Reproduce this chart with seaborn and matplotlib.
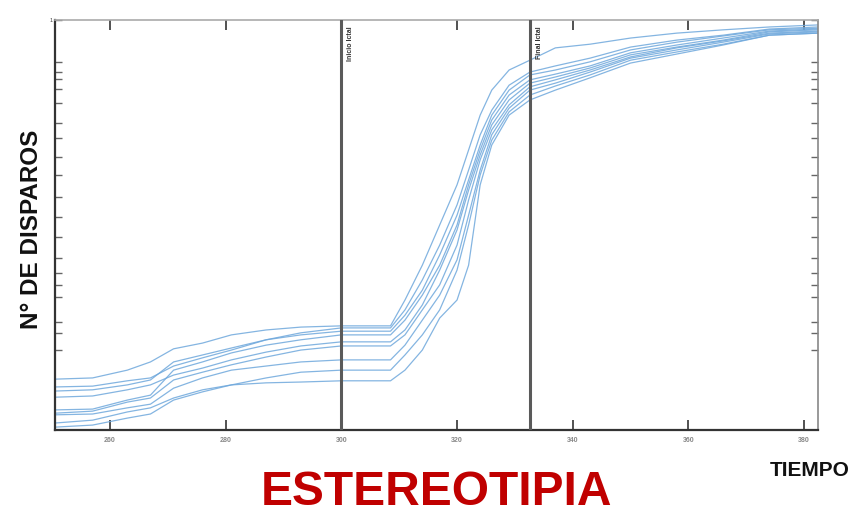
import numpy as np
import pandas as pd
import matplotlib
matplotlib.use("Agg")
import matplotlib.pyplot as plt
import seaborn as sns

# ---------------- data ----------------
times = [250.5, 257, 263, 267, 271, 276, 281, 287, 293, 300,
         308.5, 311, 314, 317, 320, 322, 324, 326, 329, 332.6,
         337, 343, 350, 358, 366, 374, 382.4]

trial_A = [12.4, 12.7, 14.6, 16.6, 19.8, 21.2, 23.2, 24.4, 25.1, 25.4,
           25.4, 31.7, 40.2, 50.0, 59.8, 68.3, 76.8, 82.9, 87.8, 90.2,
           93.2, 94.1, 95.6, 96.8, 97.6, 98.3, 98.8]
trial_B = [10.5, 10.7, 12.0, 12.7, 15.6, 17.6, 19.5, 22.0, 23.7, 24.9,
           24.9, 29.3, 36.6, 45.1, 54.9, 63.4, 72.0, 78.0, 84.1, 87.3,
           88.8, 90.7, 93.4, 95.1, 96.3, 97.8, 98.3]
trial_C = [9.5, 9.8, 11.0, 12.2, 16.6, 18.3, 20.0, 22.0, 23.2, 24.1,
           24.1, 28.0, 34.1, 42.7, 52.4, 61.0, 69.5, 76.8, 82.9, 86.6,
           87.8, 89.8, 92.7, 94.6, 96.1, 97.6, 98.0]
trial_D = [4.9, 5.1, 7.3, 8.5, 14.6, 16.6, 18.8, 20.7, 22.0, 23.2,
           23.2, 26.8, 32.9, 40.2, 50.0, 59.8, 68.3, 75.6, 81.7, 85.4,
           86.8, 88.8, 92.0, 93.9, 95.6, 97.3, 97.8]
trial_E = [8.0, 8.3, 9.8, 11.0, 13.4, 15.1, 17.1, 19.0, 20.5, 21.5,
           21.5, 24.4, 30.5, 39.0, 48.8, 58.5, 67.1, 74.4, 80.5, 84.6,
           86.1, 88.3, 91.5, 93.4, 95.1, 97.1, 97.6]
trial_F = [4.1, 4.6, 6.8, 7.8, 12.2, 14.1, 15.9, 17.8, 19.5, 20.5,
           20.5, 23.2, 29.3, 35.4, 45.1, 56.1, 65.9, 73.2, 79.3, 83.7,
           85.4, 87.8, 91.0, 93.2, 94.9, 96.8, 97.3]
trial_G = [3.7, 3.9, 5.4, 6.3, 10.2, 12.7, 14.6, 15.6, 16.6, 17.1,
           17.1, 20.7, 26.8, 32.9, 41.5, 52.4, 63.4, 72.0, 78.5, 82.9,
           84.6, 87.3, 90.7, 92.7, 94.6, 96.6, 97.1]
trial_H = [1.7, 2.4, 4.4, 5.4, 7.8, 9.8, 11.0, 12.7, 14.1, 14.6,
           14.6, 18.3, 23.2, 29.3, 39.0, 50.0, 62.2, 70.7, 77.6, 81.7,
           83.9, 86.6, 90.2, 92.2, 94.1, 96.3, 96.8]
trial_I = [0.7, 1.2, 2.9, 3.9, 7.3, 9.3, 11.0, 11.5, 11.7, 12.0,
           12.0, 14.6, 19.5, 27.3, 31.7, 40.2, 59.8, 69.5, 76.8, 80.5,
           82.9, 85.9, 89.5, 91.7, 93.9, 96.3, 96.8]

trials = {"A": trial_A, "B": trial_B, "C": trial_C, "D": trial_D, "E": trial_E,
          "F": trial_F, "G": trial_G, "H": trial_H, "I": trial_I}

x_ticks = [260, 280, 300, 320, 340, 360, 380]
x_tick_labels = ["260", "280", "300", "320", "340", "360", "380"]
y_ticks = [19.5, 23.7, 26.3, 32.4, 35.4, 38.3, 42.0, 47.1, 52.0,
           56.8, 62.2, 66.6, 71.2, 74.9, 79.8, 83.2, 85.6, 87.3,
           89.8, 100]
events = [300, 332.6]
event_labels = ["Inicio Ictal", "Final Ictal"]

# ---------------- figure ----------------
sns.set_theme(style="white")
plt.rcParams["font.family"] = ["Liberation Sans", "DejaVu Sans"]

rows = []
for name, vals in trials.items():
    for t, v in zip(times, vals):
        rows.append({"t": t, "v": v, "trial": name})
df = pd.DataFrame(rows)

fig = plt.figure(figsize=(8.63, 5.17), dpi=100)
ax = fig.add_axes([55/863, 1 - 430/517, (818 - 55)/863, (430 - 20)/517])

sns.lineplot(data=df, x="t", y="v", units="trial", estimator=None,
             color="#6fa8dc", linewidth=0.9, alpha=0.85, ax=ax, legend=False)

for xe, lab in zip(events, event_labels):
    ax.axvline(xe, color="#5a5a5a", linewidth=2.2, zorder=5)
    ax.text(xe + 1.0, 98.5, lab, rotation=90, ha="left", va="top",
            fontsize=5, fontweight="bold", color="#333333")

ax.set_xlim(250.5, 382.4)
ax.set_ylim(0, 100)
ax.set_xticks(x_ticks)
ax.set_xticklabels(x_tick_labels, fontsize=5, fontweight="bold", color="#888888")
ax.set_yticks(y_ticks)
ax.set_yticklabels([""] * (len(y_ticks) - 1) + ["1"], fontsize=4, color="#444444")
ax.tick_params(axis="x", direction="in", length=7, width=1.2, color="#333333",
               top=True, bottom=True, pad=5)
ax.tick_params(axis="y", direction="in", length=5, width=1.0, color="#666666",
               left=True, right=True, pad=2)
ax.set_xlabel("")
ax.set_ylabel("")

ax.spines["left"].set_color("#333333")
ax.spines["left"].set_linewidth(1.6)
ax.spines["bottom"].set_color("#333333")
ax.spines["bottom"].set_linewidth(1.6)
ax.spines["top"].set_color("#aaaaaa")
ax.spines["top"].set_linewidth(1.2)
ax.spines["right"].set_color("#888888")
ax.spines["right"].set_linewidth(1.2)

fig.text(31/863, 1 - 229/517, "N° DE DISPAROS", rotation=90, ha="center",
         va="center", fontsize=17.5, fontweight="bold", color="#111111")
fig.text(770/863, 1 - 470/517, "TIEMPO", ha="left", va="center",
         fontsize=15, fontweight="bold", color="#111111")
fig.text(437/863, 1 - 505/517, "ESTEREOTIPIA", ha="center", va="baseline",
         fontsize=34.5, fontweight="bold", color="#c00000")

fig.savefig("out.png", dpi=100)
